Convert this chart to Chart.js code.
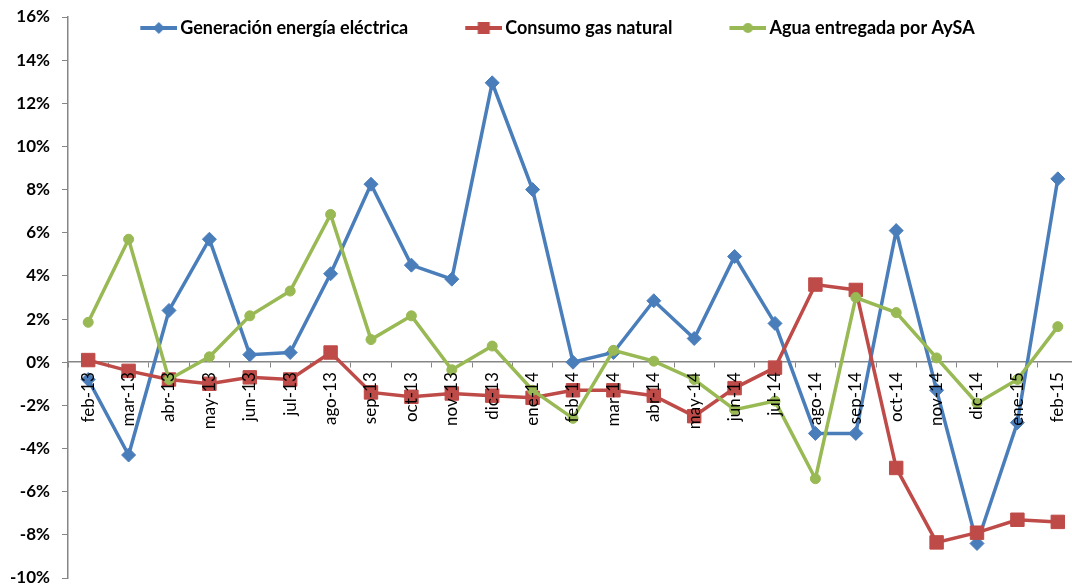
<!DOCTYPE html>
<html>
<head>
<meta charset="utf-8">
<script src="https://cdn.jsdelivr.net/npm/chart.js@4"></script>
<style>
  html, body { margin: 0; padding: 0; background: #fff; overflow: hidden; }
  #wrap { width: 1072px; height: 587px; overflow: hidden; }
</style>
</head>
<body>
<div id="wrap"><canvas id="chart" width="1080" height="587"></canvas></div>
<script>
const months = ['feb-13', 'mar-13', 'abr-13', 'may-13', 'jun-13', 'jul-13', 'ago-13', 'sep-13', 'oct-13', 'nov-13', 'dic-13', 'ene-14',
  'feb-14', 'mar-14', 'abr-14', 'may-14', 'jun-14', 'jul-14', 'ago-14', 'sep-14', 'oct-14', 'nov-14', 'dic-14', 'ene-15', 'feb-15'];

const generacion = [-0.8, -4.3, 2.4, 5.7, 0.35, 0.45, 4.1, 8.25, 4.5, 3.85, 12.95, 8.0,
  0.0, 0.45, 2.85, 1.1, 4.9, 1.8, -3.3, -3.3, 6.1, -1.3, -8.4, -2.8, 8.5];
const gas = [0.1, -0.4, -0.8, -1.0, -0.7, -0.8, 0.45, -1.4, -1.6, -1.45, -1.55, -1.65,
  -1.3, -1.3, -1.55, -2.5, -1.2, -0.25, 3.6, 3.35, -4.9, -8.35, -7.9, -7.3, -7.4];
const agua = [1.85, 5.7, -0.8, 0.25, 2.15, 3.3, 6.85, 1.05, 2.15, -0.35, 0.75, -1.3,
  -2.6, 0.55, 0.05, -0.8, -2.2, -1.8, -5.4, 3.0, 2.3, 0.2, -1.9, -0.8, 1.65];

const yMin = -10, yMax = 16, yStep = 2;

const BLUE = '#4A7EBB', RED = '#BE4B48', GREEN = '#98B954', AXIS = '#868686';
const FONT = 'Lato, "Open Sans", sans-serif';

// legend icon: blank space on the left, then a short line with the marker
// (canvas is 12px wider than the legend box so the line ends close to the text)
function legendIcon(color, style) {
  const c = document.createElement('canvas');
  c.width = 80; c.height = 16;
  const g = c.getContext('2d');
  const x0 = 43, x1 = 80, cx = (x0 + x1) / 2, cy = 8;
  g.strokeStyle = color; g.fillStyle = color; g.lineWidth = 4;
  g.beginPath(); g.moveTo(x0, cy); g.lineTo(x1, cy); g.stroke();
  g.beginPath();
  if (style === 'diamond') {
    g.moveTo(cx, cy - 6); g.lineTo(cx + 6, cy); g.lineTo(cx, cy + 6); g.lineTo(cx - 6, cy);
  } else if (style === 'square') {
    g.rect(cx - 6, cy - 6, 12, 12);
  } else {
    g.arc(cx, cy, 5, 0, Math.PI * 2);
  }
  g.closePath(); g.fill();
  return c;
}
const icons = [legendIcon(BLUE, 'diamond'), legendIcon(RED, 'square'), legendIcon(GREEN, 'circle')];

function series(label, data, color, pointStyle, radius, order) {
  return {
    label, data, order,
    borderColor: color, backgroundColor: color,
    pointBackgroundColor: color, pointBorderColor: color,
    borderWidth: 3.5, pointStyle, pointRadius: radius, pointHoverRadius: radius,
    pointBorderWidth: 1, tension: 0, clip: false
  };
}

// legend sits over the plot like in the Excel original
const overlayLegend = {
  id: 'overlayLegend',
  afterInit(chart) {
    const lg = chart.legend;
    const fit = lg.fit.bind(lg);
    lg.fit = function () { fit(); this.height = 17; };
    lg.draw = function () {
      if (!this.options.display) return;
      const top = this.top;
      this.top = top - 1;
      this._draw();
      this.top = top;
    };
  }
};

new Chart(document.getElementById('chart'), {
  type: 'line',
  data: {
    labels: months,
    datasets: [
      series('Generación energía eléctrica', generacion, BLUE, 'rectRot', 7, 2),
      series('Consumo gas natural', gas, RED, 'rect', 9.5, 1),
      series('Agua entregada por AySA', agua, GREEN, 'circle', 5, 0)
    ]
  },
  options: {
    responsive: false,
    animation: false,
    events: [],
    layout: { autoPadding: false, padding: { left: 0, right: 2, top: 0, bottom: 9 } },
    plugins: {
      tooltip: { enabled: false },
      legend: {
        position: 'top',
        labels: {
          usePointStyle: true,
          pointStyleWidth: 68,
          padding: 20,
          color: '#000',
          font: { family: FONT, size: 18, weight: 'bold' },
          sort: (a, b) => a.datasetIndex - b.datasetIndex,
          generateLabels(chart) {
            const items = Chart.defaults.plugins.legend.labels.generateLabels(chart);
            items.forEach(it => { it.pointStyle = icons[it.datasetIndex]; });
            return items;
          }
        }
      }
    },
    scales: {
      x: {
        position: { y: 0 },
        offset: true,
        z: 1,
        afterFit(scale) { scale.paddingLeft = 0; scale.paddingRight = 0; },
        grid: { display: true, drawOnChartArea: false, drawTicks: true, tickLength: 5, color: AXIS, offset: true },
        border: { display: true, color: AXIS, width: 1.5 },
        ticks: {
          z: 1, autoSkip: false, minRotation: 90, maxRotation: 90, padding: 5,
          color: '#000', font: { family: FONT, size: 17 }
        }
      },
      y: {
        min: yMin, max: yMax,
        afterFit(scale) { scale.width = 68; scale.paddingTop = 0; scale.paddingBottom = 0; },
        grid: { display: true, drawOnChartArea: false, drawTicks: true, tickLength: 6, color: AXIS },
        border: { display: true, color: AXIS, width: 1.5 },
        ticks: {
          stepSize: yStep, padding: 12, color: '#000',
          font: { family: FONT, size: 17, weight: 'bold' },
          callback: v => v + '%'
        }
      }
    }
  },
  plugins: [overlayLegend]
});
</script>
</body>
</html>
